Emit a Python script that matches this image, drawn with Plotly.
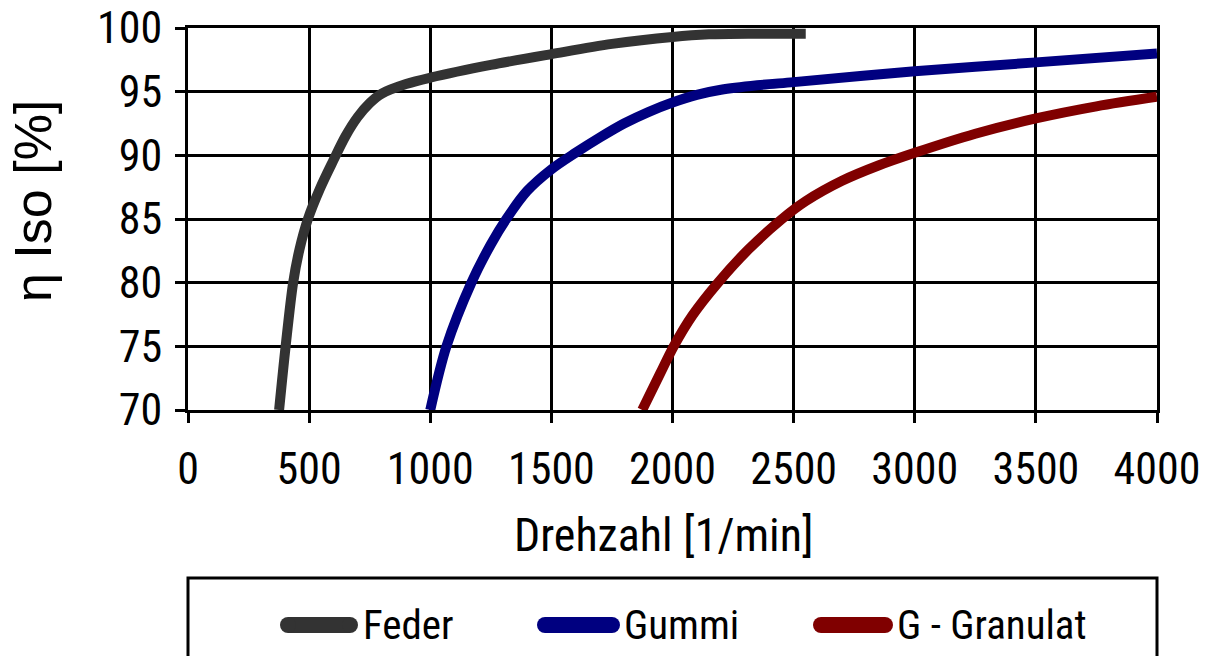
import plotly.graph_objects as go

# ---- data ----
feder_x = [376, 403, 434, 460, 495, 545, 600, 650, 700, 750, 800, 900, 1000, 1250, 1500, 1750, 2000, 2150, 2350, 2550]
feder_y = [70, 75, 80, 82.6, 85, 87.4, 89.6, 91.5, 93.0, 94.1, 94.85, 95.6, 96.1, 97.1, 97.95, 98.75, 99.3, 99.5, 99.55, 99.55]

gummi_x = [1000, 1067, 1170, 1250, 1314, 1400, 1500, 1600, 1700, 1800, 1900, 2000, 2100, 2200, 2350, 2500, 3000, 3500, 4000]
gummi_y = [70, 75, 80, 83.0, 85, 87.2, 88.9, 90.2, 91.4, 92.5, 93.4, 94.15, 94.75, 95.15, 95.5, 95.75, 96.6, 97.3, 98.0]

gran_x = [1875, 1950, 2005, 2083, 2188, 2313, 2452, 2550, 2700, 2850, 3000, 3250, 3500, 3750, 4000]
gran_y = [70, 72.9, 75, 77.45, 80, 82.6, 85, 86.4, 88.0, 89.2, 90.2, 91.7, 92.9, 93.85, 94.6]

series_names = ["Feder", "Gummi", "G - Granulat"]
series_colors = ["#333333", "#000080", "#800000"]

x_ticks = [0, 500, 1000, 1500, 2000, 2500, 3000, 3500, 4000]
y_ticks = [70, 75, 80, 85, 90, 95, 100]

x_title = "Drehzahl [1/min]"
y_title = "η Iso [%]"

NARROW = "Liberation Sans Narrow, Arial Narrow, Roboto Condensed, sans-serif"

fig = go.Figure()
for xs, ys, name, col in zip([feder_x, gummi_x, gran_x], [feder_y, gummi_y, gran_y],
                             series_names, series_colors):
    fig.add_trace(go.Scatter(x=xs, y=ys, mode="lines", name=name, showlegend=False,
                             line=dict(color=col, width=10, shape="spline", smoothing=0.9)))

# pixel geometry of the plot area
L, R, T, B = 188, 1157, 28, 410
W, H = R - L, B - T


def px(xp):
    return (xp - L) / W


def py(yp):
    return (B - yp) / H


axis_common = dict(showline=True, linecolor="black", linewidth=3, mirror=True,
                   showgrid=True, gridcolor="black", gridwidth=2.8,
                   ticks="outside", ticklen=10, tickwidth=2.5, tickcolor="black",
                   zeroline=False, automargin=False,
                   tickfont=dict(family=NARROW, size=44, color="black"))

fig.update_xaxes(range=[0, 4000], tickvals=x_ticks, ticktext=[str(v) for v in x_ticks],
                 ticklabelstandoff=8, **axis_common)
fig.update_yaxes(range=[70, 100], tickvals=y_ticks, ticktext=[str(v) for v in y_ticks],
                 ticklabelstandoff=4, **axis_common)

shapes = []
annotations = []

# axis titles
annotations.append(dict(text=x_title, x=px(663), y=py(535), xref="paper", yref="paper",
                        xanchor="center", yanchor="middle", showarrow=False,
                        font=dict(family=NARROW, size=46, color="black")))
annotations.append(dict(text=y_title, x=px(33), y=py(201), xref="paper", yref="paper",
                        xanchor="center", yanchor="middle", showarrow=False, textangle=-90,
                        font=dict(family="Liberation Sans, Arial, sans-serif", size=52,
                                  color="black")))

# legend box (open at the bottom, extends past the window)
shapes.append(dict(type="rect", xref="paper", yref="paper", x0=0, x1=1,
                   y0=py(578), y1=py(760), line=dict(color="black", width=3),
                   fillcolor="rgba(0,0,0,0)", layer="above"))

leg_sym = [(288, 350), (545, 612), (821, 885)]
leg_txt = [361, 622, 895]
leg_y = 625
for (a, b), tx, name, col in zip(leg_sym, leg_txt, series_names, series_colors):
    shapes.append(dict(type="line", xref="paper", yref="paper", x0=px(a), x1=px(b),
                       y0=py(leg_y), y1=py(leg_y), line=dict(color=col, width=16)))
    for cx in (a, b):
        shapes.append(dict(type="circle", xref="paper", yref="paper",
                           xsizemode="pixel", ysizemode="pixel",
                           xanchor=px(cx), yanchor=py(leg_y),
                           x0=-8, x1=8, y0=-8, y1=8,
                           fillcolor=col, line=dict(width=0)))
    annotations.append(dict(text=name, x=px(tx), y=py(leg_y), xref="paper", yref="paper",
                            xanchor="left", yanchor="middle", showarrow=False,
                            font=dict(family=NARROW, size=41, color="black")))

fig.update_layout(width=1209, height=656,
                  margin=dict(l=L, r=1209 - R, t=T, b=656 - B),
                  paper_bgcolor="white", plot_bgcolor="white",
                  shapes=shapes, annotations=annotations, showlegend=False)

fig.write_html("out.html")
